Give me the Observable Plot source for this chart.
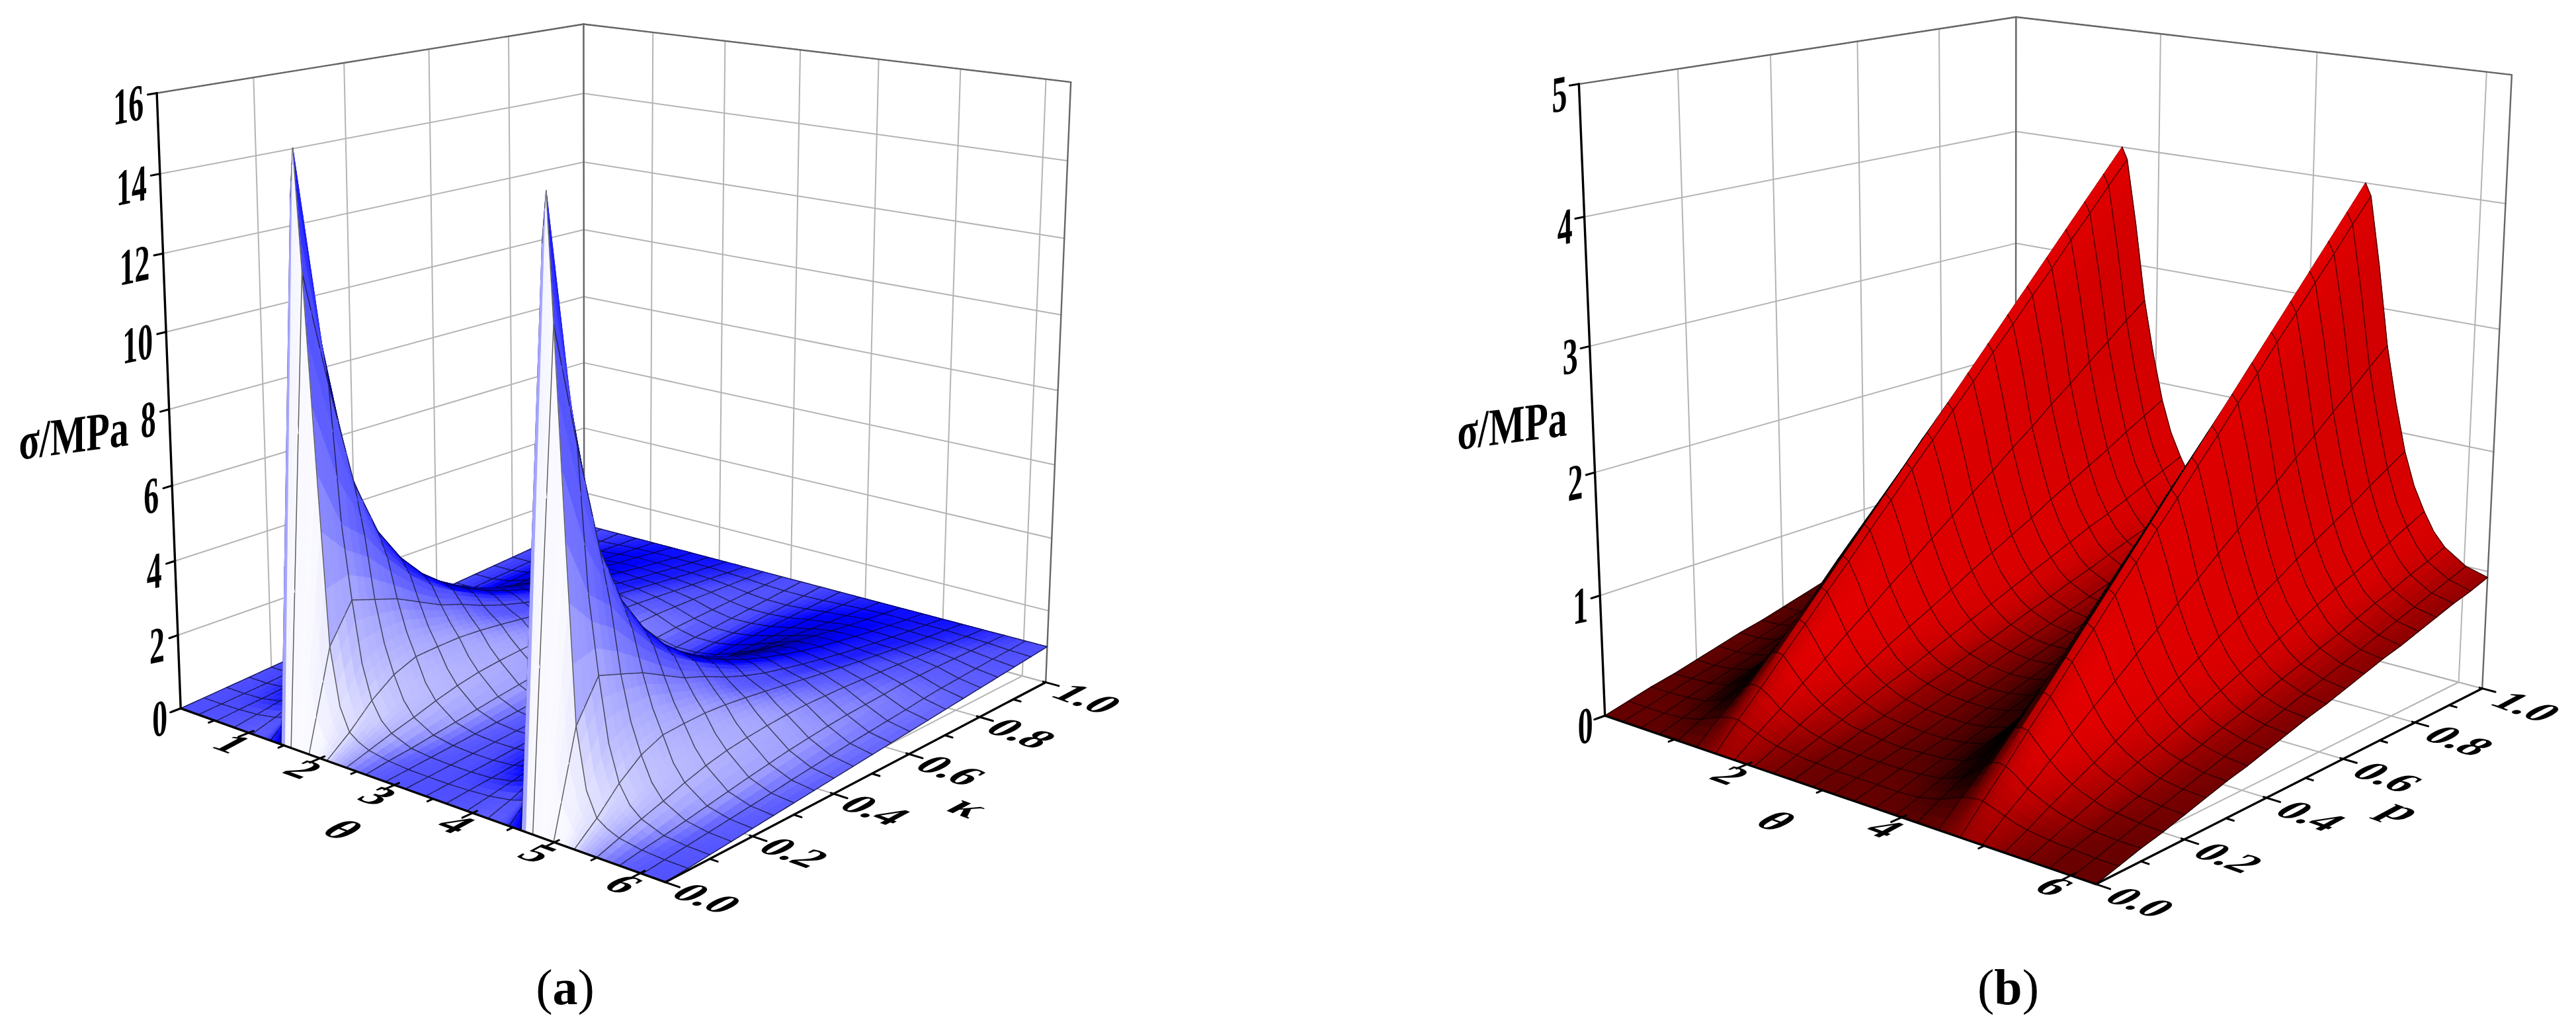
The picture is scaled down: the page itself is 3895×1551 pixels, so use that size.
<!DOCTYPE html>
<html><head><meta charset="utf-8">
<script src="https://cdn.jsdelivr.net/npm/d3@7"></script>
<script src="https://cdn.jsdelivr.net/npm/@observablehq/plot@0.6"></script>
<style>html,body{margin:0;padding:0;background:#fff}</style></head><body><div id="chart"></div>
<script>
// ---------- values ----------
const kappaRows=[0,.05,.1,.15,.2,.25,.3,.35,.4,.45,.5,.55,.6,.65,.7,.75,.8,.85,.9,.95,1];
// one period of theta; the surface repeats for theta+pi
const thetaA=[0,.262,.524,.785,1.047,1.2,1.309,1.44,1.47,1.52,1.6,1.73,1.85,1.97,2.094,2.22,2.356,2.618,2.88];
const thetaExtraA=[1.2,1.44,1.47,1.52,1.73,1.97,2.22];
const sigmaA=[
[0,0,0,0,0,0,0,0,0,0,0,0,0,0,0,0,0,0,0],
[.05,.05,.07,.11,.2,.3,.55,1.6,13.8,15,12,7,2.6,1.1,.5,.32,.2,.1,.06],
[.1,.1,.13,.23,.45,.7,1.1,3,9.5,10,9,5.5,3.6,2,1.1,.65,.4,.18,.12],
[.15,.15,.2,.34,.7,1.1,1.7,3.6,6.4,6.67,6.3,5,3.4,2.3,1.55,.95,.58,.28,.18],
[.2,.21,.26,.44,.87,1.4,2.2,3.7,4.85,5,4.85,4.2,3.2,2.4,1.8,1.18,.78,.38,.24],
[.25,.26,.33,.53,1.01,1.6,2.4,3.5,3.95,4,3.95,3.55,2.9,2.3,1.84,1.33,.95,.48,.3],
[.3,.31,.39,.62,1.11,1.7,2.4,3.1,3.3,3.33,3.3,3.05,2.6,2.2,1.86,1.42,1.08,.58,.36],
[.35,.36,.45,.69,1.18,1.75,2.3,2.75,2.84,2.86,2.84,2.7,2.4,2.1,1.83,1.46,1.16,.67,.43],
[.4,.41,.51,.76,1.23,1.75,2.15,2.42,2.49,2.5,2.49,2.4,2.15,1.95,1.77,1.48,1.22,.76,.49],
[.45,.46,.56,.82,1.25,1.7,2,2.17,2.21,2.22,2.21,2.13,1.95,1.82,1.7,1.47,1.26,.83,.55],
[.5,.51,.61,.87,1.26,1.62,1.85,1.96,1.99,2,1.99,1.93,1.79,1.7,1.62,1.44,1.28,.89,.61],
[.55,.56,.66,.91,1.25,1.55,1.72,1.79,1.81,1.82,1.81,1.76,1.67,1.6,1.54,1.4,1.27,.94,.66],
[.6,.61,.71,.94,1.23,1.46,1.59,1.64,1.66,1.67,1.66,1.62,1.56,1.51,1.46,1.36,1.26,.97,.71],
[.65,.66,.76,.97,1.21,1.38,1.49,1.52,1.53,1.54,1.53,1.5,1.46,1.42,1.39,1.31,1.23,1,.76],
[.7,.71,.8,.98,1.19,1.31,1.39,1.41,1.42,1.43,1.42,1.4,1.37,1.34,1.32,1.26,1.2,1.04,.82],
[.75,.76,.84,1,1.16,1.25,1.31,1.32,1.33,1.33,1.33,1.32,1.29,1.27,1.26,1.21,1.17,1.04,.86],
[.8,.81,.88,1,1.13,1.19,1.23,1.24,1.25,1.25,1.25,1.24,1.22,1.21,1.2,1.16,1.13,1.04,.89],
[.85,.86,.91,1.01,1.09,1.14,1.16,1.17,1.17,1.18,1.17,1.17,1.16,1.15,1.14,1.12,1.1,1.03,.92],
[.9,.9,.94,1.01,1.06,1.09,1.11,1.11,1.11,1.11,1.11,1.11,1.1,1.09,1.09,1.08,1.07,1.02,.95],
[.95,.95,.97,1,1.03,1.04,1.05,1.05,1.05,1.05,1.05,1.05,1.05,1.05,1.05,1.04,1.03,1.01,.97],
[1,1,1,1,1,1,1,1,1,1,1,1,1,1,1,1,1,1,1]];
const thetaB=[0,.262,.524,.785,1.047,1.309,1.42,1.5,1.571,1.7,1.833,1.96,2.094,2.22,2.356,2.48,2.618,2.88];
const thetaExtraB=[1.42,1.5,1.7,1.96,2.22,2.48];
const sigmaB=[
[0,0,0,0,0,0,0,0,0,0,0,0,0,0,0,0,0,0],
[.05,.05,.05,.06,.1,.17,.19,.2,.2,.17,.14,.11,.09,.08,.07,.06,.06,.05],
[.1,.1,.11,.13,.19,.33,.39,.4,.39,.34,.27,.23,.19,.16,.14,.12,.11,.1],
[.14,.15,.16,.19,.29,.5,.58,.6,.59,.5,.41,.34,.28,.24,.21,.18,.17,.15],
[.19,.19,.21,.25,.38,.66,.77,.8,.78,.67,.54,.45,.37,.32,.28,.25,.22,.2],
[.24,.24,.26,.31,.48,.83,.96,1,.98,.84,.68,.56,.46,.4,.35,.31,.28,.25],
[.29,.29,.32,.38,.57,.99,1.16,1.2,1.17,1.01,.81,.68,.56,.47,.41,.37,.34,.3],
[.33,.34,.37,.44,.67,1.16,1.35,1.4,1.37,1.17,.95,.79,.65,.55,.48,.43,.39,.35],
[.38,.39,.42,.5,.76,1.32,1.54,1.6,1.56,1.34,1.08,.9,.74,.63,.55,.49,.45,.4],
[.43,.44,.47,.56,.86,1.49,1.73,1.8,1.76,1.51,1.22,1.01,.83,.71,.62,.55,.5,.45],
[.48,.49,.53,.63,.95,1.65,1.93,2,1.95,1.68,1.35,1.13,.93,.79,.69,.62,.56,.5],
[.52,.53,.58,.69,1.05,1.82,2.12,2.2,2.15,1.84,1.49,1.24,1.02,.87,.76,.68,.62,.55],
[.57,.58,.63,.75,1.14,1.98,2.31,2.4,2.34,2.01,1.62,1.35,1.11,.95,.83,.74,.67,.6],
[.62,.63,.68,.81,1.24,2.15,2.5,2.6,2.54,2.18,1.76,1.46,1.2,1.03,.9,.8,.73,.65],
[.67,.68,.74,.88,1.33,2.31,2.7,2.8,2.73,2.35,1.89,1.58,1.3,1.11,.97,.86,.78,.7],
[.71,.73,.79,.94,1.43,2.48,2.89,3,2.93,2.51,2.03,1.69,1.39,1.19,1.04,.92,.84,.75],
[.76,.78,.84,1,1.52,2.64,3.08,3.2,3.12,2.68,2.16,1.8,1.48,1.26,1.1,.98,.9,.8],
[.81,.82,.89,1.06,1.62,2.81,3.27,3.4,3.32,2.85,2.3,1.91,1.57,1.34,1.17,1.05,.95,.85],
[.86,.87,.95,1.13,1.71,2.97,3.47,3.6,3.51,3.02,2.43,2.03,1.67,1.42,1.24,1.11,1.01,.9],
[.9,.92,1,1.19,1.81,3.14,3.66,3.8,3.71,3.18,2.57,2.14,1.76,1.5,1.31,1.17,1.06,.95],
[.95,.97,1.05,1.25,1.9,3.3,3.85,4,3.9,3.35,2.7,2.25,1.85,1.58,1.38,1.23,1.12,1]];
const zTicksA=[0,2,4,6,8,10,12,14,16], zTicksB=[0,1,2,3,4,5];
const thetaMajorA=[1,2,3,4,5,6], thetaMinorA=[.5,1.5,2.5,3.5,4.5,5.5];
const thetaMajorB=[2,4,6], thetaMinorB=[1,3,5];
const kappaMajor=[0,.2,.4,.6,.8,1], kappaMinor=[.1,.3,.5,.7,.9];

// ---------- layout of each 3-D box: pixel position of its corners (u=theta, v=kappa, w=sigma) ----------
const boxA=[[0,0,0,273,1068],[0,0,1,236,141],[0,1,0,882,843],[0,1,1,883,35],[1,1,0,1581,1029],[1,1,1,1618,124],[1,0,0,1006,1335]];
const boxB=[[0,0,0,2425,1073],[0,0,1,2387,129],[0,1,0,3048,862],[0,1,1,3048,22],[1,1,0,3752,1033],[1,1,1,3797,114],[1,0,0,3170,1343]];

function camera(box){
  const A=[],b=[];
  for(const [u,v,w,x,y] of box){
    A.push([u,v,w,1,0,0,0,0,-u*x,-v*x,-w*x]);b.push(x);
    A.push([0,0,0,0,u,v,w,1,-u*y,-v*y,-w*y]);b.push(y);
  }
  const n=11,M=d3.range(n).map(i=>d3.range(n+1).map(j=>{
    let s=0;for(let k=0;k<A.length;k++)s+=A[k][i]*(j<n?A[k][j]:b[k]);return s;}));
  for(let i=0;i<n;i++){
    let p=i;for(let r=i+1;r<n;r++)if(Math.abs(M[r][i])>Math.abs(M[p][i]))p=r;
    [M[i],M[p]]=[M[p],M[i]];
    for(let r=0;r<n;r++)if(r!==i){const f=M[r][i]/M[i][i];for(let j=i;j<=n;j++)M[r][j]-=f*M[i][j];}
  }
  const p=M.map((row,i)=>row[n]/row[i]);
  return (u,v,w)=>{const d=p[8]*u+p[9]*v+p[10]*w+1;
    return [(p[0]*u+p[1]*v+p[2]*w+p[3])/d,(p[4]*u+p[5]*v+p[6]*w+p[7])/d];};
}

const TAU=2*Math.PI;
function surface(thetaCols,extra,sigma,zMax,proj,ramp,L,meshMix,meshW,tag){
  const th=[...thetaCols,...thetaCols.map(t=>t+Math.PI),TAU];
  const mesh=th.map((t,i)=>!extra.includes(thetaCols[i%thetaCols.length])||i===th.length-1);
  const Z=sigma.map(row=>[...row,...row,row[0]]);
  const R=kappaRows.length-1,C=th.length-1,H=1.3;
  const Iq=d3.range(R).map(r=>d3.range(C).map(c=>{
    const du=th[c+1]-th[c],dv=kappaRows[r+1]-kappaRows[r];
    const zu=((Z[r][c+1]-Z[r][c])+(Z[r+1][c+1]-Z[r+1][c]))/2/du*TAU/zMax*H;
    const zv=((Z[r+1][c]-Z[r][c])+(Z[r+1][c+1]-Z[r][c+1]))/2/dv/zMax*H;
    const m=Math.hypot(zu,zv,1);
    return (-zu*L[0]-zv*L[1]+L[2])/m;}));
  function cornerI(r,c,q){let s=0,n=0;
    for(const a of [r-1,r])for(const b of [c-1,c]){
      if(a<0||b<0||a>=R||b>=C)continue;
      if(Math.abs(Iq[a][b]-q)<.32){s+=Iq[a][b];n++;}}
    return n?s/n:q;}
  const N=3,out=[];let id=0;
  const P=(r,c,fr,fc)=>{
    const z=(Z[r][c]*(1-fc)+Z[r][c+1]*fc)*(1-fr)+(Z[r+1][c]*(1-fc)+Z[r+1][c+1]*fc)*fr;
    const t=th[c]+(th[c+1]-th[c])*fc,k=kappaRows[r]+(kappaRows[r+1]-kappaRows[r])*fr;
    return proj(t/TAU,k,z/zMax);};
  for(let r=R-1;r>=0;r--)for(let sr=N-1;sr>=0;sr--)for(let c=0;c<C;c++){
    const q=Iq[r][c],i00=cornerI(r,c,q),i01=cornerI(r,c+1,q),i10=cornerI(r+1,c,q),i11=cornerI(r+1,c+1,q);
    for(let sc=0;sc<N;sc++){
      const a=sr/N,b=(sr+1)/N,e=sc/N,f=(sc+1)/N,mr=(a+b)/2,mc=(e+f)/2;
      const I=(i00*(1-mc)+i01*mc)*(1-mr)+(i10*(1-mc)+i11*mc)*mr;
      const col=d3.color(ramp(I)).formatHex();
      const poly=[P(r,c,a,e),P(r,c,a,f),P(r,c,b,f),P(r,c,b,e)];poly.push(poly[0]);
      const g=tag+(id++);
      for(const [x,y] of poly)out.push({id:g,px:x,py:y,fill:col,stroke:col,sw:1.1});
      const lc=d3.color(d3.interpolateRgb(col,"#000")(meshMix)).formatHex();
      const seg=(p1,p2)=>{const s=tag+(id++);
        out.push({id:s,px:p1[0],py:p1[1],fill:"none",stroke:lc,sw:meshW},{id:s,px:p2[0],py:p2[1],fill:"none",stroke:lc,sw:meshW});};
      if(sr===N-1)seg(poly[3],poly[2]);
      if(sc===0&&mesh[c])seg(poly[0],poly[3]);
      if(sc===N-1&&c===C-1)seg(poly[1],poly[2]);
    }
  }
  return out;
}

function panel(o){
  const {proj,zMax,zTicks,major,minor}=o;
  const U=t=>t/TAU, W=z=>z/zMax;
  const seg=(id,a,b)=>[a,b].map(p=>{const [x,y]=proj(...p);return {id,x,y};});
  const grid=[],frame=[],axis=[],ticks=[];
  zTicks.forEach(z=>{grid.push(...seg("zl"+z,[0,0,W(z)],[0,1,W(z)]),...seg("zb"+z,[0,1,W(z)],[1,1,W(z)]));});
  kappaMajor.forEach(k=>{grid.push(...seg("kv"+k,[0,k,0],[0,k,1]),...seg("kf"+k,[0,k,0],[1,k,0]));});
  major.forEach(t=>{grid.push(...seg("tv"+t,[U(t),1,0],[U(t),1,1]),...seg("tf"+t,[U(t),0,0],[U(t),1,0]));});
  frame.push(...seg("f1",[0,0,1],[0,1,1]),...seg("f2",[0,1,1],[1,1,1]),...seg("f3",[0,1,0],[0,1,1]),...seg("f4",[1,1,0],[1,1,1]));
  axis.push(...seg("a1",[0,0,0],[0,0,1]),...seg("a2",[0,0,0],[1,0,0]),...seg("a3",[1,0,0],[1,1,0]));
  zTicks.forEach(z=>ticks.push(...seg("tz"+z,[0,-.018,W(z)],[0,0,W(z)])));
  major.forEach(t=>ticks.push(...seg("tM"+t,[U(t),-.022,0],[U(t),.01,0])));
  minor.forEach(t=>ticks.push(...seg("tm"+t,[U(t),-.012,0],[U(t),0,0])));
  kappaMajor.forEach(k=>ticks.push(...seg("kM"+k,[.995,k,0],[1.025,k,0])));
  kappaMinor.forEach(k=>ticks.push(...seg("km"+k,[1,k,0],[1.014,k,0])));
  ticks.push(...seg("t0",[0,-.022,0],[0,.0,0]));
  const pts=(arr,f,lab)=>arr.map(v=>{const [x,y]=proj(...f(v));return {x,y,label:lab(v)};});
  const serif="Liberation Serif";
  const base={x:"x",y:"y",text:"label",fontFamily:serif,fontWeight:"bold",fill:"#000"};
  return [
    Plot.line(grid,{x:"x",y:"y",z:"id",stroke:"#b4b4b4",strokeWidth:2}),
    Plot.line(frame,{x:"x",y:"y",z:"id",stroke:"#666",strokeWidth:2.4}),
    Plot.line(o.surf,{x:"px",y:"py",z:"id",fill:"fill",stroke:"stroke",strokeWidth:"sw",strokeLinejoin:"round"}),
    Plot.line(axis,{x:"x",y:"y",z:"id",stroke:"#000",strokeWidth:3.4}),
    Plot.line(ticks,{x:"x",y:"y",z:"id",stroke:"#000",strokeWidth:3}),
    Plot.text(pts(zTicks,z=>[0,0,W(z)],String),{...base,fontSize:74,textAnchor:"end",dx:o.zdx,dy:o.zdy,className:"zlab"}),
    Plot.text(pts(major,t=>[U(t),0,0],String),{...base,fontSize:64,dx:-26,dy:17,className:"floorlab"}),
    Plot.text(pts(kappaMajor,k=>[1,k,0],k=>k.toFixed(1)),{...base,fontSize:64,dx:o.kdx,dy:o.kdy,className:"floorlab"}),
    Plot.text(pts([3],t=>[U(t),0,0],()=>"θ"),{...base,fontSize:66,dx:o.tTitle[0],dy:o.tTitle[1],className:"floorlab"}),
    Plot.text(pts([.5],k=>[1,k,0],()=>o.kName),{...base,fontSize:68,dx:o.kTitle[0],dy:o.kTitle[1],className:"floorlab"}),
  ];
}

const rampA=d3.scaleLinear().domain([-.3,0,.15,.31,.42,.62,.8,.9,1]).range(["#000060","#0000c0","#0000ff","#4f4fff","#6060ff","#a4a4ff","#c4c4ff","#e0e0ff","#fafaff"]).clamp(true);
const rampB=d3.scaleLinear().domain([-.2,.13,.41,.6,.77,.93,1]).range(["#000000","#200000","#640000","#900000","#b80000","#dc0000","#e80000"]).clamp(true);

const projA=camera(boxA),projB=camera(boxB);
const marksA=panel({proj:projA,zMax:16,zTicks:zTicksA,major:thetaMajorA,minor:thetaMinorA,
  surf:surface(thetaA,thetaExtraA,sigmaA,16,projA,rampA,[.6,-.8,.25],.62,1.5,"a"),
  zdx:-20,zdy:14,kdx:62,kdy:25,tTitle:[-79,68],kTitle:[146,51],kName:"κ"});
const marksB=panel({proj:projB,zMax:5,zTicks:zTicksB,major:thetaMajorB,minor:thetaMinorB,
  surf:surface(thetaB,thetaExtraB,sigmaB,5,projB,rampB,[.8,-.5,.3],.62,1.5,"b"),
  zdx:-18,zdy:14,kdx:66,kdy:28,tTitle:[-71,47],kTitle:[146,50],kName:"p"});

const chart=Plot.plot({
  width:3895,height:1551,margin:0,
  style:{background:"#fff",fontFamily:"Liberation Serif"},
  x:{domain:[0,3895],range:[0,3895],axis:null},
  y:{domain:[0,1551],range:[0,1551],axis:null},
  color:{type:"identity"},
  marks:[
    ...marksA,...marksB,
    Plot.text([{x:111,y:658,t:"σ/MPa"},{x:2286,y:643,t:"σ/MPa"}],{x:"x",y:"y",text:"t",fontFamily:"Liberation Serif",fontWeight:"bold",fontSize:76,fill:"#000",className:"ztitle"}),
    Plot.text([{x:854,y:1493,t:"(a)"},{x:3036,y:1493,t:"(b)"}],{x:"x",y:"y",text:"t",fontFamily:"Liberation Serif",fontSize:76,fill:"#000",className:"caption"}),
  ]
});
document.getElementById("chart").append(chart);
const S=d3.select(chart);
const mat=(sel,m)=>sel.each(function(){const t=this.getAttribute("transform")||"";this.setAttribute("transform",t+` matrix(${m.join(",")})`);});
mat(S.selectAll("g.zlab text"),[.62,-.13,0,1.05,0,0]);
mat(S.selectAll("g.ztitle text"),[.76,-.1,0,1.05,0,0]);
mat(S.selectAll("g.floorlab text"),[1.0,.36,-.88,.47,0,0]);
S.selectAll("g.caption text").each(function(){
  const s=this.textContent,tx=d3.select(this);tx.text(null);
  tx.append("tspan").text("(");tx.append("tspan").attr("font-weight","bold").text(s[1]);tx.append("tspan").text(")");
});
</script></body></html>
